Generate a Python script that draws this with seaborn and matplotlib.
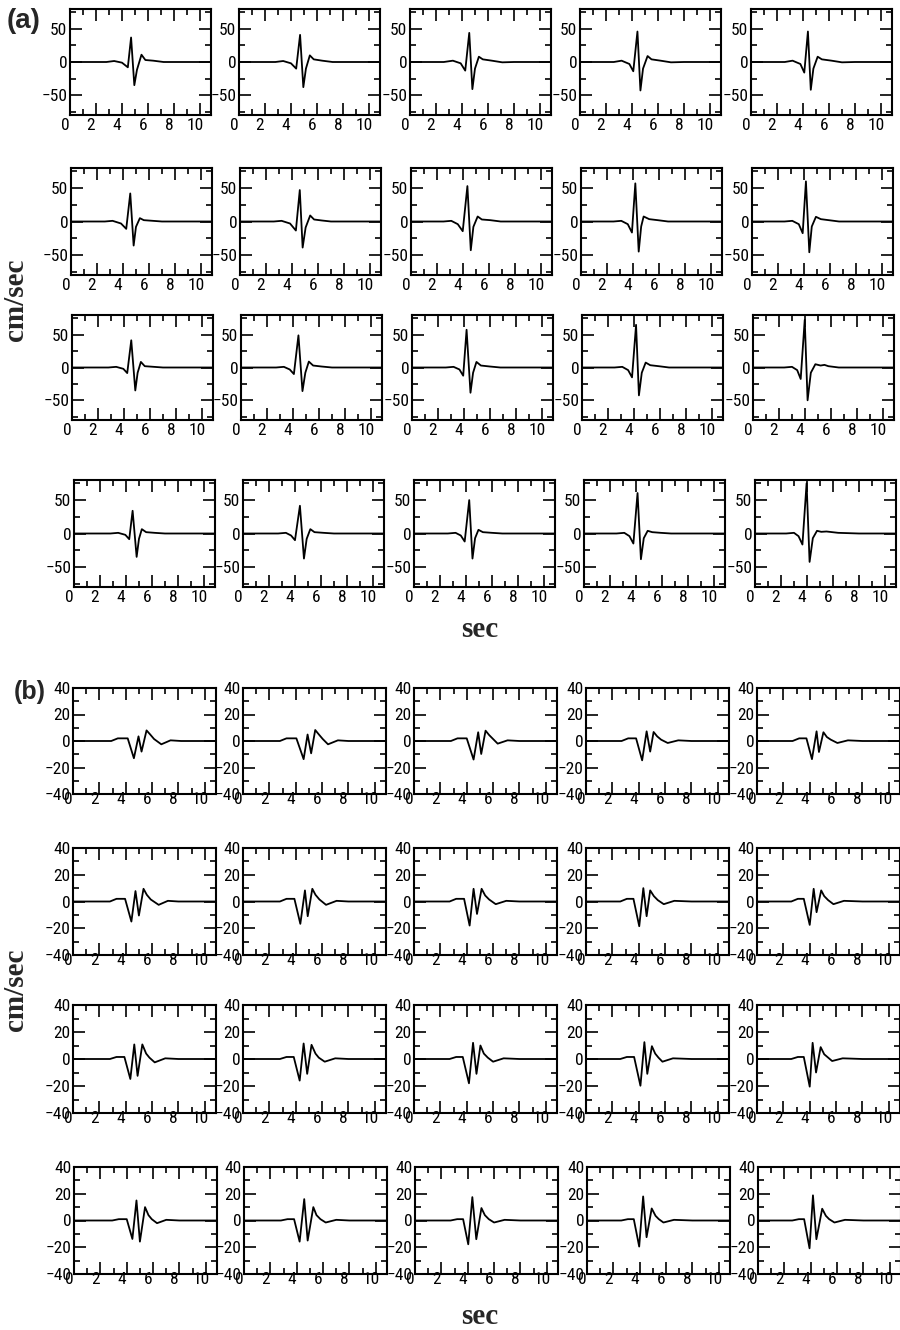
import matplotlib
matplotlib.use("Agg")
import matplotlib.pyplot as plt
from matplotlib import font_manager as fm
from matplotlib.ticker import MultipleLocator
from matplotlib.transforms import ScaledTranslation
import seaborn as sns

# ---------------------------------------------------------------------------
# Velocity traces (cm/sec) sampled at the turning points of each record.
# Panel (a): 4 rows x 5 stations; panel (b): 4 rows x 5 stations.
# ---------------------------------------------------------------------------
A1_T = [
    [0, 2.8, 3.4, 4.0, 4.45, 4.7, 4.95, 5.15, 5.5, 5.8, 6.4, 7.2, 8.0, 10.85],
    [0, 2.8, 3.4, 4.0, 4.4, 4.7, 4.95, 5.15, 5.45, 5.75, 6.4, 7.2, 8.0, 10.85],
    [0, 2.6, 3.3, 3.9, 4.25, 4.56, 4.8, 5.0, 5.3, 5.6, 6.3, 7.1, 8.0, 10.85],
    [0, 2.6, 3.2, 3.8, 4.1, 4.42, 4.65, 4.85, 5.2, 5.5, 6.2, 7.0, 8.0, 10.85],
    [0, 2.6, 3.2, 3.8, 4.1, 4.38, 4.6, 4.8, 5.13, 5.45, 6.2, 7.0, 8.0, 10.85],
]
A1_V = [
    [0, 0, 1.5, -1, -8, 37, -35, -12, 11, 3, 2, 0, 0, 0],
    [0, 0, 1.5, -2, -10, 41, -38, -10, 10, 4, 2, 0, 0, 0],
    [0, 0, 2, -2, -13, 44, -41, -10, 8, 4, 2, -0.5, 0, 0],
    [0, 0, 2, -3, -14, 46, -43, -10, 9, 4, 2, -0.5, 0, 0],
    [0, 0, 2, -3, -16, 46, -42, -10, 8, 4, 2, -0.5, 0, 0],
]
A2_T = [
    [0, 2.6, 3.2, 3.85, 4.25, 4.56, 4.82, 5.0, 5.3, 5.6, 6.3, 7.0, 8.0, 10.85],
    [0, 2.6, 3.2, 3.85, 4.3, 4.6, 4.82, 5.05, 5.4, 5.7, 6.3, 7.0, 8.0, 10.85],
    [0, 2.5, 3.1, 3.6, 3.98, 4.34, 4.6, 4.8, 5.13, 5.45, 6.1, 6.9, 8.0, 10.85],
    [0, 2.5, 3.1, 3.6, 3.92, 4.18, 4.44, 4.63, 4.82, 5.25, 5.9, 6.7, 8.0, 10.85],
    [0, 2.5, 3.1, 3.6, 3.9, 4.15, 4.41, 4.6, 4.92, 5.3, 5.9, 6.7, 8.0, 10.85],
]
A2_V = [
    [0, 0, 1, -3, -11, 42, -36, -8, 5, 2, 1, 0, 0, 0],
    [0, 0, 1, -3, -13.5, 47, -39, -9, 9, 3, 1.5, 0, 0, 0],
    [0, 0, 1, -4, -14.5, 53, -43, -8, 7.5, 3, 2, 0, 0, 0],
    [0, 0, 1, -4, -16.5, 57, -45, -7.5, 7.5, 3.5, 2, 0, 0, 0],
    [0, 0, 1, -4, -17.5, 60, -46, -7.5, 7, 3.5, 2, 0, 0, 0],
]
A3_T = [
    [0, 2.8, 3.4, 3.95, 4.25, 4.56, 4.87, 5.05, 5.3, 5.6, 6.3, 7.0, 8.0, 10.85],
    [0, 2.7, 3.3, 3.75, 4.07, 4.42, 4.73, 4.95, 5.22, 5.55, 6.2, 7.0, 8.0, 10.85],
    [0, 2.6, 3.2, 3.65, 3.94, 4.2, 4.5, 4.7, 4.96, 5.3, 6.0, 6.8, 8.0, 10.85],
    [0, 2.5, 3.1, 3.55, 3.85, 4.16, 4.38, 4.6, 4.9, 5.25, 5.9, 6.7, 8.0, 10.85],
    [0, 2.4, 3.0, 3.4, 3.67, 3.98, 4.2, 4.45, 4.8, 5.2, 5.5, 5.8, 6.6, 8.0, 10.85],
]
A3_V = [
    [0, 0, 1, -2, -8.5, 41.5, -35, -8, 8.5, 2, 1, 0, 0, 0],
    [0, 0, 1, -3, -10, 49, -36, -8, 9, 3, 1.5, 0, 0, 0],
    [0, 0, 1, -3, -12.5, 57.5, -38.5, -8, 8.5, 3, 1.5, 0, 0, 0],
    [0, 0, 1, -4, -15, 65, -42.5, -8, 7.5, 3.5, 2, 0, 0, 0],
    [0, 0, 1, -4, -17.5, 72.5, -50, -8, 5, 3, 4, 2, 0, 0, 0],
]
A4_T = [
    [0, 2.8, 3.4, 3.95, 4.25, 4.51, 4.82, 5.0, 5.22, 5.55, 6.2, 7.0, 8.0, 10.85],
    [0, 2.7, 3.3, 3.7, 4.0, 4.38, 4.69, 4.9, 5.18, 5.5, 6.2, 7.0, 8.0, 10.85],
    [0, 2.6, 3.2, 3.6, 3.9, 4.25, 4.5, 4.7, 4.96, 5.3, 6.0, 6.8, 8.0, 10.85],
    [0, 2.5, 3.1, 3.5, 3.8, 4.12, 4.38, 4.6, 4.9, 5.25, 5.9, 6.7, 8.0, 10.85],
    [0, 2.4, 3.0, 3.35, 3.65, 3.97, 4.2, 4.45, 4.77, 5.1, 5.5, 6.4, 8.0, 10.85],
]
A4_V = [
    [0, 0, 1, -2, -8.5, 34, -35, -8, 6.5, 2, 1, 0, 0, 0],
    [0, 0, 1, -3, -10, 41.5, -37.5, -8, 6.5, 2, 1, 0, 0, 0],
    [0, 0, 1, -3, -12, 50, -37.5, -7, 5.5, 2, 1, 0, 0, 0],
    [0, 0, 1, -4, -15, 60.5, -38.5, -7, 4, 2, 1, 0, 0, 0],
    [0, 0, 1, -4, -16.5, 75, -42.5, -7, 4, 2.5, 3, 1, 0, 0],
]

B1_T = [
    [0, 2.9, 3.4, 4.15, 4.62, 4.97, 5.2, 5.58, 5.85, 6.15, 6.7, 7.4, 8.2, 10.85],
    [0, 2.8, 3.3, 4.05, 4.6, 4.9, 5.17, 5.48, 5.75, 6.05, 6.45, 7.2, 8.0, 10.85],
    [0, 2.8, 3.3, 4.0, 4.52, 4.87, 5.1, 5.43, 5.7, 6.0, 6.35, 7.1, 8.0, 10.85],
    [0, 2.7, 3.2, 3.8, 4.26, 4.6, 4.87, 5.13, 5.4, 5.7, 6.2, 7.0, 8.0, 10.85],
    [0, 2.7, 3.2, 3.75, 4.17, 4.52, 4.7, 5.04, 5.3, 5.6, 6.1, 6.9, 8.0, 10.85],
]
B1_V = [
    [0, 0, 2, 2, -13, 3.5, -8, 8, 5, 1.5, -2.5, 0.5, 0, 0],
    [0, 0, 2, 2, -13.7, 4.9, -9.3, 8.3, 5, 1.5, -2.5, 0.5, 0, 0],
    [0, 0, 2, 2, -14, 6.6, -9.8, 7.8, 4.5, 1.5, -2, 0.5, 0, 0],
    [0, 0, 2, 2, -14.6, 7.3, -8, 6.8, 3.5, 1, -1.5, 0.5, 0, 0],
    [0, 0, 2, 2, -13.7, 7.3, -8.3, 6.6, 3, 1, -1.5, 0.5, 0, 0],
]
B2_T = [
    [0, 2.8, 3.3, 3.95, 4.43, 4.74, 5.0, 5.35, 5.6, 5.9, 6.5, 7.2, 8.0, 10.85],
    [0, 2.8, 3.3, 3.9, 4.35, 4.7, 4.91, 5.26, 5.5, 5.8, 6.3, 7.1, 8.0, 10.85],
    [0, 2.7, 3.2, 3.8, 4.22, 4.52, 4.78, 5.13, 5.4, 5.7, 6.2, 7.0, 8.0, 10.85],
    [0, 2.6, 3.1, 3.6, 4.04, 4.35, 4.6, 4.87, 5.15, 5.45, 5.9, 6.7, 8.0, 10.85],
    [0, 2.6, 3.1, 3.55, 4.0, 4.3, 4.52, 4.87, 5.1, 5.4, 5.8, 6.6, 8.0, 10.85],
]
B2_V = [
    [0, 0, 2, 2, -15, 7.8, -10.5, 9.5, 5, 1.5, -2.5, 0.5, 0, 0],
    [0, 0, 2, 2, -16.7, 8.3, -11, 9.5, 5, 1.5, -2.5, 0.5, 0, 0],
    [0, 0, 2, 2, -18, 9.5, -9.3, 9.5, 4.5, 1.5, -2, 0.5, 0, 0],
    [0, 0, 2, 2, -18.5, 10, -11, 8.3, 4, 1, -2, 0.5, 0, 0],
    [0, 0, 2, 2, -17.5, 9.5, -8, 8.3, 4, 1, -2, 0.5, 0, 0],
]
B3_T = [
    [0, 2.8, 3.3, 3.9, 4.35, 4.65, 4.9, 5.26, 5.55, 5.8, 6.2, 7.0, 8.0, 10.85],
    [0, 2.8, 3.3, 3.85, 4.3, 4.6, 4.87, 5.2, 5.5, 5.75, 6.2, 7.0, 8.0, 10.85],
    [0, 2.7, 3.2, 3.7, 4.17, 4.48, 4.74, 5.04, 5.3, 5.6, 6.0, 6.8, 8.0, 10.85],
    [0, 2.6, 3.1, 3.65, 4.13, 4.43, 4.65, 5.0, 5.25, 5.5, 5.8, 6.6, 8.0, 10.85],
    [0, 2.6, 3.1, 3.55, 4.0, 4.22, 4.48, 4.83, 5.1, 5.4, 5.7, 6.5, 8.0, 10.85],
]
B3_V = [
    [0, 0, 1.5, 1.5, -14.8, 10.8, -12.5, 10.8, 4, 1, -2.5, 0.5, 0, 0],
    [0, 0, 1.5, 1.5, -16, 11.5, -11, 10.5, 4, 1, -2, 0.5, 0, 0],
    [0, 0, 1.5, 1.5, -18, 12, -11, 10, 4, 1, -2, 0.5, 0, 0],
    [0, 0, 1.5, 1.5, -19.8, 12.5, -11, 9.5, 4, 1, -2, 0.5, 0, 0],
    [0, 0, 1.5, 1.5, -20.5, 12, -10, 8.8, 3.5, 1, -1.5, 0.5, 0, 0],
]
B4_T = [
    [0, 2.9, 3.4, 4.0, 4.43, 4.74, 5.0, 5.39, 5.65, 5.9, 6.3, 7.0, 8.0, 10.85],
    [0, 2.8, 3.3, 3.8, 4.22, 4.57, 4.83, 5.26, 5.5, 5.8, 6.2, 7.0, 8.0, 10.85],
    [0, 2.7, 3.2, 3.65, 4.04, 4.35, 4.65, 5.04, 5.3, 5.6, 6.0, 6.8, 8.0, 10.85],
    [0, 2.6, 3.1, 3.55, 3.96, 4.26, 4.52, 4.91, 5.2, 5.45, 5.8, 6.6, 8.0, 10.85],
    [0, 2.6, 3.1, 3.5, 3.91, 4.17, 4.43, 4.87, 5.15, 5.4, 5.8, 6.6, 8.0, 10.85],
]
B4_V = [
    [0, 0, 1, 1, -13.8, 15, -15.8, 10, 4, 1, -2, 0.5, 0, 0],
    [0, 0, 1, 1, -15.8, 16, -15, 10, 4, 1, -1.5, 0.5, 0, 0],
    [0, 0, 1, 1, -17.8, 17.5, -14, 9.3, 4, 1, -1.5, 0.5, 0, 0],
    [0, 0, 1, 1, -19.5, 18, -12.5, 9, 3.5, 1, -1.5, 0.5, 0, 0],
    [0, 0, 1, 1, -20.8, 18.8, -14, 8.8, 3.5, 1, -1.5, 0.5, 0, 0],
]

X_LABEL = "sec"
Y_LABEL = "cm/sec"
PANEL_TAGS = ["(a)", "(b)"]

# ---------------------------------------------------------------------------
# Tick-label font: prefer a narrow sans face when one is installed
# ---------------------------------------------------------------------------
sns.set_style("ticks")
installed = {f.name for f in fm.fontManager.ttflist}
tick_family, tick_size = "Liberation Sans", 11.5
for cand, size in (("Liberation Sans Narrow", 12.5), ("Roboto Condensed", 12.5),
                   ("Open Sans Condensed", 12.5)):
    if cand in installed:
        tick_family, tick_size = cand, size
        break
plt.rcParams["font.family"] = [tick_family, "DejaVu Sans"]
plt.rcParams["axes.linewidth"] = 1.5

# ---------------------------------------------------------------------------
# Figure layout (pixel geometry on a 900 x 1330 canvas)
# ---------------------------------------------------------------------------
W, H = 900, 1330
fig = plt.figure(figsize=(W / 100, H / 100), dpi=100)
fig.patch.set_facecolor("white")

panels = [
    dict(times=[A1_T, A2_T, A3_T, A4_T], vels=[A1_V, A2_V, A3_V, A4_V],
         lefts=[70, 239, 410, 580, 751], width=141,
         rows=[(9, 115), (168, 275), (315, 420), (480, 587)], shift=[0, 1, 2, 4],
         ylim=80, ymajor=50, yminor=25, xpad=2.5),
    dict(times=[B1_T, B2_T, B3_T, B4_T], vels=[B1_V, B2_V, B3_V, B4_V],
         lefts=[73, 243, 414, 586, 757], width=143,
         rows=[(688, 794), (848, 955), (1005, 1113), (1167, 1274)], shift=[0, 0, 0, 1],
         ylim=40, ymajor=20, yminor=10, xpad=-1.5),
]

all_axes = []
for p in panels:
    for r, (top, bot) in enumerate(p["rows"]):
        for c, left in enumerate(p["lefts"]):
            x0 = left + p["shift"][r]
            ax = fig.add_axes([x0 / W, 1 - bot / H, p["width"] / W, (bot - top) / H])
            sns.lineplot(x=p["times"][r][c], y=p["vels"][r][c], ax=ax, color="black",
                         linewidth=1.3, estimator=None, sort=False)
            ax.set_xlim(0, 10.85)
            ax.set_ylim(-p["ylim"], p["ylim"])
            ax.xaxis.set_major_locator(MultipleLocator(2))
            ax.xaxis.set_minor_locator(MultipleLocator(1))
            ax.yaxis.set_major_locator(MultipleLocator(p["ymajor"]))
            ax.yaxis.set_minor_locator(MultipleLocator(p["yminor"]))
            ax.tick_params(which="both", direction="in", top=True, right=True,
                           width=1.2, color="black", labelcolor="black")
            ax.tick_params(which="major", length=8.5)
            ax.tick_params(which="minor", length=4.3)
            ax.tick_params(axis="x", pad=p["xpad"], labelsize=tick_size)
            ax.tick_params(axis="y", pad=2, labelsize=tick_size)
            for s in ax.spines.values():
                s.set_visible(True)
                s.set_color("black")
                s.set_linewidth(1.5)
            ax.set_xlabel("")
            ax.set_ylabel("")
            ax.set_facecolor("white")
            all_axes.append(ax)

# panel tags and shared axis titles
fig.text(7 / W, 1 - 8 / H, PANEL_TAGS[0], fontsize=20, fontweight="bold",
         family="Liberation Sans", ha="left", va="top")
fig.text(14 / W, 1 - 680 / H, PANEL_TAGS[1], fontsize=18, fontweight="bold",
         family="Liberation Sans", ha="left", va="top")
for yc in (300, 990):
    fig.text(16 / W, 1 - yc / H, Y_LABEL, rotation=90, fontsize=21, fontweight="bold",
             family="Liberation Serif", ha="center", va="center")
for yc in (630, 1316):
    fig.text(480 / W, 1 - yc / H, X_LABEL, fontsize=21, fontweight="bold",
             family="Liberation Serif", ha="center", va="center")

# nudge the time labels slightly left of their ticks
fig.canvas.draw()
nudge = ScaledTranslation(-0.05, 0, fig.dpi_scale_trans)
for ax in all_axes:
    for lab in ax.get_xticklabels():
        lab.set_transform(lab.get_transform() + nudge)

fig.savefig("out.png", dpi=100, facecolor="white")
